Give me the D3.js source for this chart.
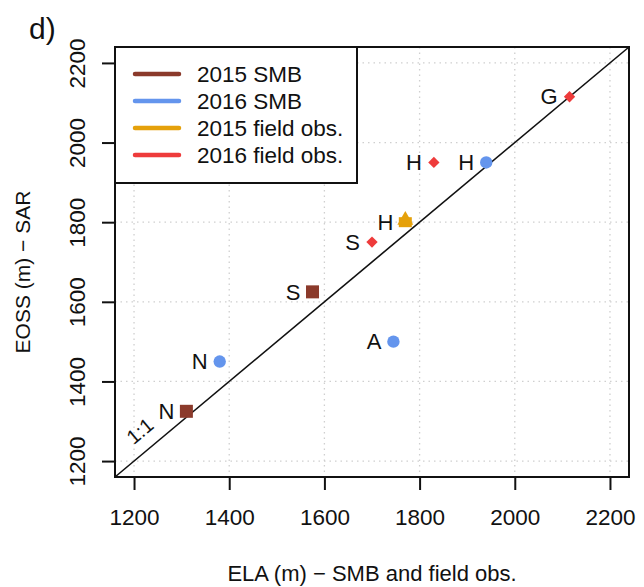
<!DOCTYPE html>
<html><head><meta charset="utf-8">
<script src="https://cdn.jsdelivr.net/npm/d3@7"></script>
<style>body{margin:0;background:#fff}svg{display:block}text{font-family:"Liberation Sans",Arial,sans-serif;fill:#111}</style>
</head><body><svg id="c" width="644" height="587"></svg>
<script>
const ticks = [1200, 1400, 1600, 1800, 2000, 2200];
const smb2015 = [{x:1310,y:1325,l:"N"},{x:1575,y:1625,l:"S"}];
const smb2016 = [{x:1380,y:1450,l:"N"},{x:1745,y:1500,l:"A"},{x:1940,y:1950,l:"H"}];
const field2015 = [{x:1770,y:1800,l:"H"}];
const field2016 = [{x:1830,y:1950,l:"H"},{x:1700,y:1750,l:"S"},{x:2115,y:2115,l:"G"}];
const legendLabels = ["2015 SMB","2016 SMB","2015 field obs.","2016 field obs."];
const colors = ["#8B3A2B","#6495ED","#E5A10B","#EE3B3B"];

const svg = d3.select("#c");
const L=115,R=629,T=47,B=477;
const x = d3.scaleLinear().domain([1160,2240]).range([L,R]);
const y = d3.scaleLinear().domain([1160,2240]).range([B,T]);

// grid
const g = svg.append("g");
g.selectAll(".gx").data(ticks).enter().append("line")
 .attr("x1",d=>x(d)).attr("x2",d=>x(d)).attr("y1",T).attr("y2",B)
 .attr("stroke","#cfcfcf").attr("stroke-width",1.3).attr("stroke-dasharray","1.5,4");
g.selectAll(".gy").data(ticks).enter().append("line")
 .attr("y1",d=>y(d)).attr("y2",d=>y(d)).attr("x1",L).attr("x2",R)
 .attr("stroke","#cfcfcf").attr("stroke-width",1.3).attr("stroke-dasharray","1.5,4");

// 1:1 line
svg.append("line").attr("x1",x(1160)).attr("y1",y(1160)).attr("x2",x(2240)).attr("y2",y(2240))
 .attr("stroke","#111").attr("stroke-width",1.6);

// axes
const xa = svg.append("g").attr("transform",`translate(0,${B})`)
 .call(d3.axisBottom(x).tickValues(ticks).tickSize(13).tickPadding(19).tickFormat(d3.format("d")));
const ya = svg.append("g").attr("transform",`translate(${L},0)`)
 .call(d3.axisLeft(y).tickValues(ticks).tickSize(13).tickPadding(8).tickFormat(d3.format("d")));
[xa,ya].forEach(a=>{a.select(".domain").remove();a.selectAll("line").attr("stroke","#111").attr("stroke-width",2);
 a.selectAll("text").attr("font-size",22.5).attr("fill","#111").style("font-family","Liberation Sans, Arial, sans-serif");});
xa.append("line").attr("x1",x(1200)).attr("x2",x(2200)).attr("stroke","#111").attr("stroke-width",2);
ya.append("line").attr("y1",y(1200)).attr("y2",y(2200)).attr("stroke","#111").attr("stroke-width",2);
ya.selectAll(".tick text").attr("x",null).attr("dy",null)
 .attr("text-anchor","middle").attr("transform","translate(-38,0) rotate(-90)").attr("dy","0.35em");

// box
svg.append("rect").attr("x",L).attr("y",T).attr("width",R-L).attr("height",B-T)
 .attr("fill","none").attr("stroke","#111").attr("stroke-width",2);

// titles
svg.append("text").attr("x",(L+R)/2).attr("y",581).attr("text-anchor","middle").attr("font-size",22).text("ELA (m) − SMB and field obs.");
svg.append("text").attr("transform",`translate(30,${(T+B)/2+10}) rotate(-90)`).attr("text-anchor","middle").attr("font-size",21).text("EOSS (m) − SAR");
svg.append("text").attr("x",29).attr("y",39).attr("font-size",30).text("d)");

// 1:1 label
svg.append("text").attr("transform",`translate(140,431) rotate(-40)`).attr("text-anchor","middle").attr("dy","0.35em").attr("font-size",20).text("1:1");

// points
const pts = svg.append("g");
function labels(data){
 pts.selectAll(null).data(data).enter().append("text")
  .attr("x",d=>x(d.x)-12).attr("y",d=>y(d.y)).attr("dy","0.35em").attr("text-anchor","end").attr("font-size",22).text(d=>d.l);
}
pts.selectAll(null).data(smb2015).enter().append("rect")
 .attr("x",d=>x(d.x)-6.5).attr("y",d=>y(d.y)-6.5).attr("width",13).attr("height",13).attr("fill",colors[0]);
pts.selectAll(null).data(smb2016).enter().append("circle")
 .attr("cx",d=>x(d.x)).attr("cy",d=>y(d.y)).attr("r",6.2).attr("fill",colors[1]);
pts.selectAll(null).data(field2015).enter().append("rect")
 .attr("x",d=>x(d.x)-6.5).attr("y",d=>y(d.y)-5).attr("width",13).attr("height",10).attr("fill",colors[2]);
pts.selectAll(null).data(field2015).enter().append("path")
 .attr("transform",d=>`translate(${x(d.x)},${y(d.y)-2})`)
 .attr("d",d3.symbol(d3.symbolTriangle,110)).attr("fill",colors[2]);
pts.selectAll(null).data(field2016).enter().append("path")
 .attr("transform",d=>`translate(${x(d.x)},${y(d.y)}) rotate(45)`)
 .attr("d","M-4,-4H4V4H-4Z").attr("fill",colors[3]);
labels(smb2015);labels(smb2016);labels(field2015);labels(field2016);

// legend
const lg = svg.append("g");
lg.append("rect").attr("x",L).attr("y",T).attr("width",242).attr("height",136).attr("fill","#fff").attr("stroke","#111").attr("stroke-width",2);
legendLabels.forEach((t,i)=>{
 const yy = 74 + i*27;
 lg.append("line").attr("x1",135).attr("x2",179).attr("y1",yy).attr("y2",yy).attr("stroke",colors[i]).attr("stroke-width",4.5).attr("stroke-linecap","round");
 lg.append("text").attr("x",197).attr("y",yy).attr("dy","0.35em").attr("font-size",22.5).text(t);
});
</script></body></html>
